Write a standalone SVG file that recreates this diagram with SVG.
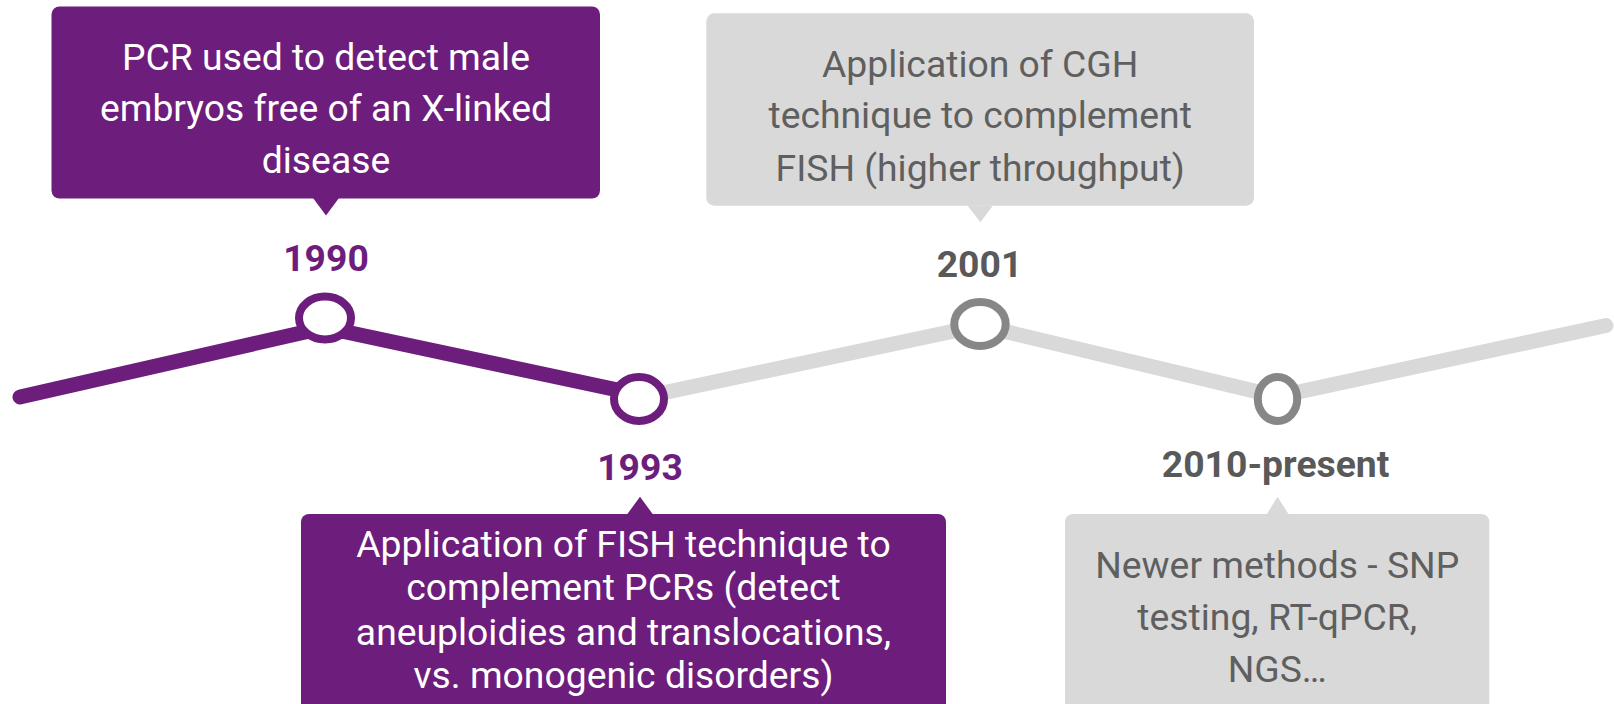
<svg xmlns="http://www.w3.org/2000/svg" width="1614" height="704" viewBox="0 0 1614 704">
<style>
.bt{font-family:Roboto,"Liberation Sans",sans-serif;font-size:37.3px;text-anchor:middle}
.w{fill:#ffffff}
.g{fill:#5f5f5f}
.yr{font-family:Roboto,"Liberation Sans",sans-serif;font-size:37.3px;font-weight:bold;text-anchor:middle}
.pf{fill:#6d1d7b}
.gf{fill:#d9d9d9}
.pc{fill:#ffffff;stroke:#6d1d7b;stroke-width:8}
.gc{fill:#ffffff;stroke:#878787;stroke-width:8}
</style>
<rect width="1614" height="704" fill="#ffffff"/>
<g id="connectors" fill="none" stroke-width="15" stroke-linecap="round" stroke-linejoin="round">
<polyline points="639,398 980,325.5 1277.5,396.5 1606,325.5" stroke="#d9d9d9"/>
<polyline points="20,397 325,327.5 639,394.5" stroke="#6d1d7b"/>
</g>
<g id="node-1990">
<rect class="pf" x="51.5" y="6.5" width="548.5" height="192" rx="8"/>
<polygon class="pf" points="313,198 339,198 326,215.5"/>
<text class="bt w" x="326" y="70">PCR used to detect male</text>
<text class="bt w" x="326" y="121">embryos free of an X-linked</text>
<text class="bt w" x="326" y="173">disease</text>
<text class="yr" x="326" y="270.7" fill="#6d1d7b">1990</text>
<ellipse class="pc" cx="325" cy="318" rx="26" ry="21.5"/>
</g>
<g id="node-1993">
<rect class="pf" x="301" y="514" width="645" height="210" rx="8"/>
<polygon class="pf" points="627,514.5 653,514.5 640,496.7"/>
<text class="bt w" x="623.5" y="556.7">Application of FISH technique to</text>
<text class="bt w" x="623.5" y="600">complement PCRs (detect</text>
<text class="bt w" x="623.5" y="645">aneuploidies and translocations,</text>
<text class="bt w" x="623.5" y="688.3">vs. monogenic disorders)</text>
<text class="yr" x="640" y="480" fill="#6d1d7b">1993</text>
<ellipse class="pc" cx="639" cy="399" rx="25" ry="22"/>
</g>
<g id="node-2001">
<rect class="gf" x="706.3" y="13.3" width="547.7" height="192.4" rx="8"/>
<polygon class="gf" points="967.5,205.5 993,205.5 980.4,222.3"/>
<text class="bt g" x="980.2" y="77.3">Application of CGH</text>
<text class="bt g" x="980.2" y="128.3">technique to complement</text>
<text class="bt g" x="980.2" y="181">FISH (higher throughput)</text>
<text class="yr" x="979.5" y="276.7" fill="#595959">2001</text>
<ellipse class="gc" cx="980" cy="324" rx="25.7" ry="22"/>
</g>
<g id="node-2010">
<rect class="gf" x="1065" y="514" width="424.3" height="210" rx="8"/>
<polygon class="gf" points="1266.7,514.5 1288.7,514.5 1277.5,496.7"/>
<text class="bt g" x="1277.2" y="578.3">Newer methods - SNP</text>
<text class="bt g" x="1277.2" y="630">testing, RT-qPCR,</text>
<text class="bt g" x="1277.2" y="681.7">NGS…</text>
<text class="yr" x="1275.6" y="476.7" fill="#595959">2010-present</text>
<ellipse class="gc" cx="1277.5" cy="399" rx="19.7" ry="22"/>
</g>
</svg>
